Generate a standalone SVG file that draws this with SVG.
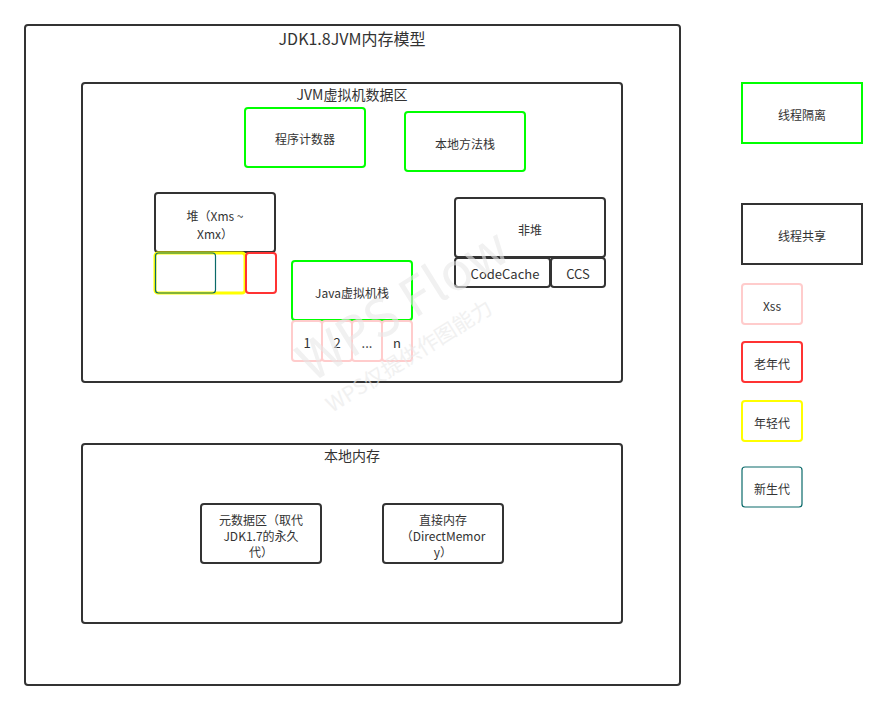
<svg xmlns="http://www.w3.org/2000/svg" width="887" height="710" viewBox="0 0 887 710">
<style>
text{font-family:"Noto Sans CJK SC","Noto Sans",sans-serif;fill:#333;text-anchor:middle;dominant-baseline:central}
.t{font-size:13px}
.s{font-size:12px}
.dark{fill:#fff;stroke:#333;stroke-width:2}
.grn{fill:#fff;stroke:#00ff00;stroke-width:2}
.pink{fill:#fff;stroke:#ffcccc;stroke-width:2}
.red{fill:#fff;stroke:#ff3333;stroke-width:2}
.yel{fill:#fff;stroke:#ffff00;stroke-width:3}
.teal{fill:none;stroke:#0b6a6a;stroke-width:1.2}
.wm{fill:#e8e8e8;text-anchor:start;dominant-baseline:alphabetic}
</style>
<rect width="887" height="710" fill="#fff"/>
<g id="outer">
<rect class="dark" x="25" y="25" width="655" height="660" rx="3"/>
<text x="352" y="38" style="font-size:16px">JDK1.8JVM内存模型</text>
</g>
<g id="jvm-data">
<rect class="dark" x="82" y="83" width="540" height="299" rx="3"/>
<text x="352" y="94" style="font-size:14px">JVM虚拟机数据区</text>
</g>
<g id="native-mem">
<rect class="dark" x="82" y="444" width="540" height="179" rx="3"/>
<text x="352" y="455" style="font-size:14px">本地内存</text>
</g>
<g id="pc">
<rect class="grn" x="245" y="108" width="120" height="59" rx="3"/>
<text class="s" x="305" y="138">程序计数器</text>
</g>
<g id="native-stack">
<rect class="grn" x="405" y="112" width="120" height="59" rx="3"/>
<text class="s" x="465" y="143">本地方法栈</text>
</g>
<g id="heap">
<rect class="dark" x="155" y="193" width="120" height="59" rx="3"/>
<text class="s" x="215" y="215">堆（Xms ~</text>
<text class="s" x="215" y="233">Xmx）</text>
</g>
<g id="young">
<rect class="yel" x="155" y="253" width="90" height="40" rx="3"/>
</g>
<g id="eden">
<rect class="teal" x="155.5" y="253" width="60" height="40" rx="3"/>
</g>
<g id="old">
<rect class="red" x="246" y="253" width="30" height="40" rx="3"/>
</g>
<g id="nonheap">
<rect class="dark" x="455" y="198" width="150" height="59" rx="3"/>
<text class="s" x="530" y="229">非堆</text>
</g>
<g id="codecache">
<rect class="dark" x="455" y="258" width="95" height="29" rx="3"/>
<text class="t" x="505" y="273">CodeCache</text>
</g>
<g id="ccs">
<rect class="dark" x="551" y="258" width="54" height="29" rx="3"/>
<text class="t" x="578" y="273">CCS</text>
</g>
<g id="jvm-stack">
<rect class="grn" x="292" y="261" width="120" height="59" rx="3"/>
<text class="s" x="352" y="292">Java虚拟机栈</text>
</g>
<g id="frame1"><rect class="pink" x="292" y="321" width="30" height="40" rx="3"/><text class="t" x="307" y="342">1</text></g>
<g id="frame2"><rect class="pink" x="322" y="321" width="30" height="40" rx="3"/><text class="t" x="337" y="342">2</text></g>
<g id="frame3"><rect class="pink" x="352" y="321" width="30" height="40" rx="3"/><text class="t" x="367" y="342">...</text></g>
<g id="frame4"><rect class="pink" x="382" y="321" width="30" height="40" rx="3"/><text class="t" x="397" y="342">n</text></g>
<g id="metaspace">
<rect class="dark" x="201" y="504" width="120" height="59" rx="3"/>
<text class="s" x="261" y="519">元数据区（取代</text>
<text class="s" x="261" y="535">JDK1.7的永久</text>
<text class="s" x="261" y="551">代）</text>
</g>
<g id="direct">
<rect class="dark" x="383" y="504" width="120" height="59" rx="3"/>
<text class="s" x="443" y="519">直接内存</text>
<text class="s" x="443" y="535">（DirectMemor</text>
<text class="s" x="443" y="551">y）</text>
</g>
<g id="legend-isolated">
<rect class="grn" x="742" y="83" width="120" height="60"/>
<text class="s" x="802" y="114">线程隔离</text>
</g>
<g id="legend-shared">
<rect class="dark" x="742" y="204" width="120" height="60"/>
<text class="s" x="802" y="235">线程共享</text>
</g>
<g id="legend-xss">
<rect class="pink" x="742" y="284" width="60" height="40" rx="3"/>
<text class="s" x="772" y="305">Xss</text>
</g>
<g id="legend-old">
<rect class="red" x="742" y="342" width="60" height="40" rx="3"/>
<text class="s" x="772" y="363">老年代</text>
</g>
<g id="legend-young">
<rect class="yel" x="742" y="401" width="60" height="40" rx="3" style="stroke-width:2"/>
<text class="s" x="772" y="422">年轻代</text>
</g>
<g id="legend-eden">
<rect class="teal" x="742" y="467" width="60" height="40" rx="3"/>
<text class="s" x="772" y="488">新生代</text>
</g>
<g id="watermark" opacity="0.6">
<text class="wm" x="0" y="0" transform="translate(312,383) rotate(-32)" style="font-size:52px">WPS Flow</text>
<text class="wm" x="0" y="0" transform="translate(332,413) rotate(-32)" style="font-size:21px">WPS仅提供作图能力</text>
</g>
</svg>
